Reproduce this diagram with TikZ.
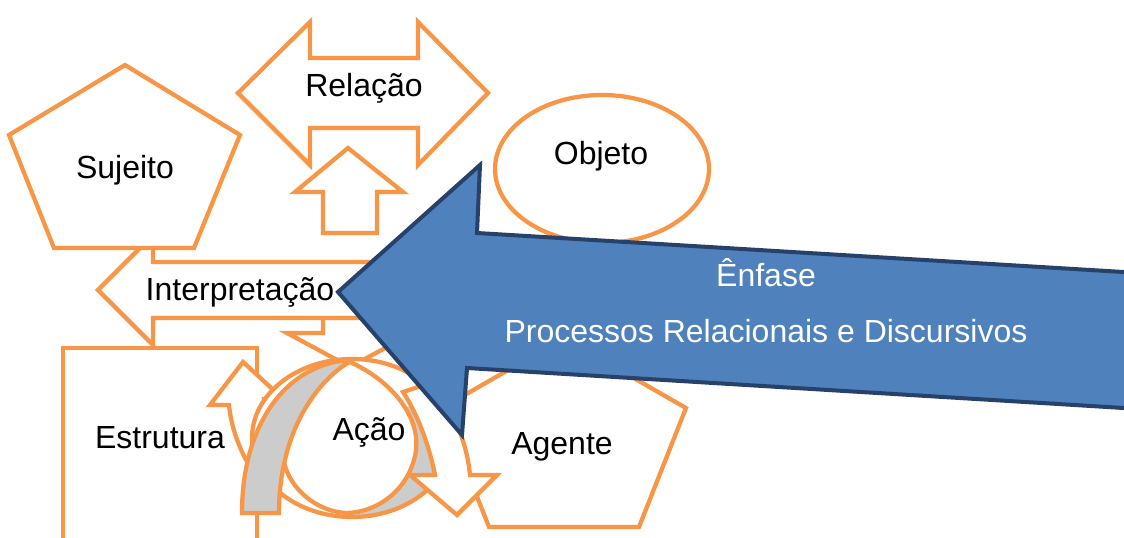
\documentclass[tikz,border=0pt]{standalone}
\usepackage{fontspec}
\setmainfont{Liberation Sans}
\definecolor{orng}{HTML}{F79646}
\definecolor{bluefill}{HTML}{4F81BD}
\definecolor{blueline}{HTML}{27416A}
\definecolor{grayfill}{HTML}{CCCCCC}
\begin{document}
\begin{tikzpicture}[x=0.75pt,y=-0.75pt,
  shp/.style={draw=orng, line width=3.2pt, fill=white, line join=miter},
  grayshp/.style={draw=orng, line width=3.2pt, fill=grayfill, line join=miter},
  lbl/.style={font=\fontsize{24}{28}\selectfont, inner sep=0pt, text height=17.2pt, text depth=0pt},
  wlbl/.style={lbl, text=white}]
\useasboundingbox (0,0) rectangle (1124,538);
\clip (0,0) rectangle (1124,538);

% double arrow
\path[shp] (238,93) -- (310,22) -- (310,58) -- (418,58) -- (418,22) -- (488,93)
  -- (418,165) -- (418,128) -- (310,128) -- (310,165) -- cycle;
% up arrow below it
\path[shp] (348,148) -- (403,192) -- (377,192) -- (377,233) -- (323,233)
  -- (323,192) -- (295,192) -- cycle;

% down arrow under the left arrow
\path[shp] (323,295) -- (377,295) -- (377,333) -- (413,333) -- (350,367)
  -- (287,333) -- (323,333) -- cycle;
% left arrow
\path[shp] (98,290) -- (153,235) -- (153,262) -- (400,262) -- (400,318)
  -- (153,318) -- (153,345) -- cycle;
% pentagon, upper left
\path[shp] (125,65) -- (240,135) -- (194,248) -- (54,248) -- (9,135) -- cycle;

% rectangle
\path[shp] (63,348) rectangle (257,560);

% curved arrow pointing up, left of the cycle
\path[shp] (243,362) -- (280,396) -- (264,399) .. controls (268,420) and (275,440) .. (285,460)
  -- (252,470) .. controls (238,448) and (231,425) .. (229,405) -- (210,405) -- cycle;

% pentagon, lower right
\path[shp] (564,338) -- (686,408) -- (639,527) -- (489,527) -- (442,408) -- cycle;

% ring behind the central lens
\fill[white] (352,438) ellipse [x radius=100, y radius=79];
\begin{scope}
  \clip (352,438) ellipse [x radius=100, y radius=79];
  \fill[grayfill] (352,440) -- (470,370) -- (470,530) -- (352,530) -- cycle;
\end{scope}
\draw[orng, line width=3.2pt] (352,438) ellipse [x radius=100, y radius=79];

% curved arrow pointing down, right of the cycle
\path[shp] (435,475) -- (410,475) -- (457,515) -- (497,475) -- (470,475)
  .. controls (468,455) and (463,438) .. (455,420) -- (445,378) -- (403,392)
  .. controls (415,410) and (428,440) .. (435,475) -- cycle;

% central lens
\path[shp] (350,362) .. controls (390,380) and (420,415) .. (416,450)
  .. controls (411,487) and (380,512) .. (347,513)
  .. controls (315,512) and (285,485) .. (283,455)
  .. controls (283,420) and (310,380) .. (350,362) -- cycle;

% gray band on the left
\path[grayshp] (242,513) .. controls (242,420) and (290,362) .. (352,360)
  .. controls (310,385) and (279,440) .. (279,513) -- cycle;

% ellipse, upper right
\path[shp] (602,169) ellipse [x radius=107, y radius=74];

% large blue arrow
\path[fill=bluefill, draw=blueline, line width=3pt, line join=miter]
  (338,292) -- (480,165) -- (477,233) -- (1140,273) -- (1140,409)
  -- (467,368) -- (462,435) -- cycle;

% labels
\node[lbl] (relacao) at (364,85) {Relação};
\node[lbl] (sujeito) at (125,167) {Sujeito};
\node[lbl] (objeto) at (601,153) {Objeto};
\node[lbl] (interp) at (240,289) {Interpretação};
\node[lbl] (estrutura) at (160,437) {Estrutura};
\node[lbl] (acao) at (369,429) {Ação};
\node[lbl] (agente) at (562,443) {Agente};
\node[wlbl] (enfase) at (766,275) {Ênfase};
\node[wlbl] (processos) at (766,331) {Processos Relacionais e Discursivos};
\end{tikzpicture}
\end{document}
